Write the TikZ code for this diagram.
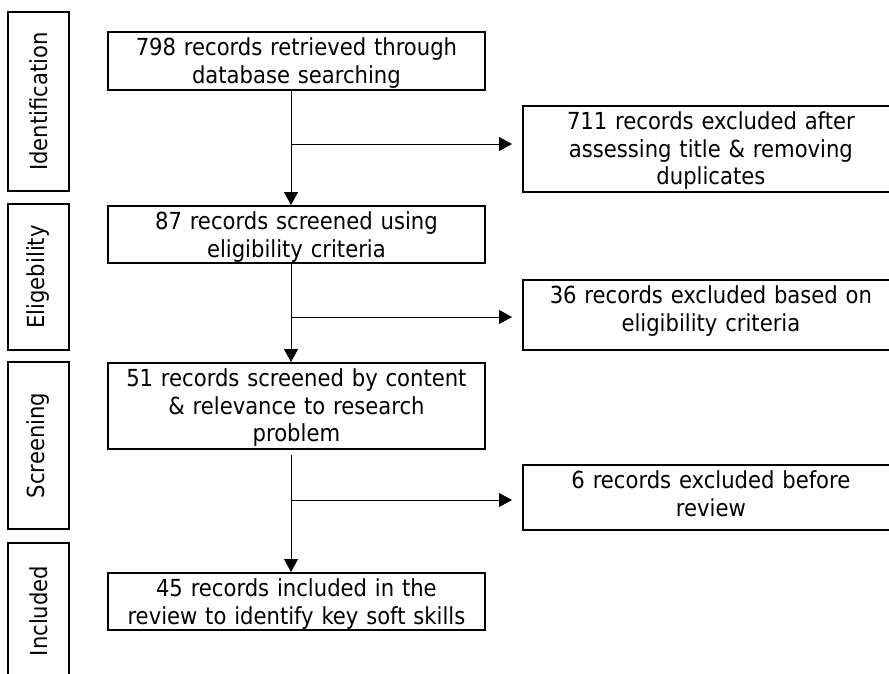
\documentclass[tikz,border=0pt]{standalone}
\usepackage{fontspec}
\setmainfont{DejaVu Sans Condensed}
\usetikzlibrary{arrows.meta}

\begin{document}
\begin{tikzpicture}[x=1pt, y=-1pt,
	record/.style={rectangle, draw=black, line width=1.8pt, text width=373pt, inner xsep=2pt, inner ysep=0pt, align=center, anchor=north west, text height=24pt, font=\fontsize{23.5}{27.5}\selectfont},
	excluded/.style={record, text width=372pt},
	stage/.style={rectangle, draw=black, line width=1.8pt, minimum height=61pt, inner sep=0pt, rotate=90, font=\fontsize{23.5}{27.5}\selectfont},
	flow/.style={-{Triangle[length=13pt, width=14pt]}, line width=0.8pt},
	]
	\useasboundingbox (0,0) rectangle (889,673);
	%Stages
	\node[stage, minimum width=179pt] (identification) at (38.5,101.5) {Identification};
	\node[stage, minimum width=146pt] (eligibility) at (38.5,277) {Eligebility};
	\node[stage, minimum width=167pt] (screening) at (38.5,445.5) {Screening};
	\node[stage, minimum width=136pt] (included) at (38.5,611) {Included};
	%
	%Records
	\node[record, text depth=34pt] (retrieved) at (107,31) {798 records retrieved through\\database searching};
	\node[record, text depth=33pt] (eligible) at (107,205) {87 records screened using\\eligibility criteria};
	\node[record, text depth=62pt] (relevant) at (107,362) {51 records screened by content\\\& relevance to research\\problem};
	\node[record, text depth=33pt] (review) at (107,572) {45 records included in the\\review to identify key soft skills};
	%
	\node[excluded, text depth=62pt] (duplicates) at (522,105) {711 records excluded after\\assessing title \& removing\\duplicates};
	\node[excluded, text depth=46pt] (criteria) at (522,279) {36 records excluded based on\\eligibility criteria};
	\node[excluded, text depth=41pt] (beforereview) at (522,464) {6 records excluded before\\review};
	%
	\coordinate (spine) at (291,0);
	\coordinate (split1) at (291,144);
	\coordinate (split2) at (291,317);
	\coordinate (split3) at (291,500);
	%
	\draw[flow] (retrieved.south -| spine) -- (eligible.north -| spine);
	\draw[flow] (eligible.south -| spine) -- (relevant.north -| spine);
	\draw[flow, shorten <=5pt] (relevant.south -| spine) -- (review.north -| spine);
	%
	\draw[flow, shorten >=10pt] (split1) -- (split1 -| duplicates.west);
	\draw[flow, shorten >=10pt] (split2) -- (split2 -| criteria.west);
	\draw[flow, shorten >=10pt] (split3) -- (split3 -| beforereview.west);
\end{tikzpicture}
\end{document}
